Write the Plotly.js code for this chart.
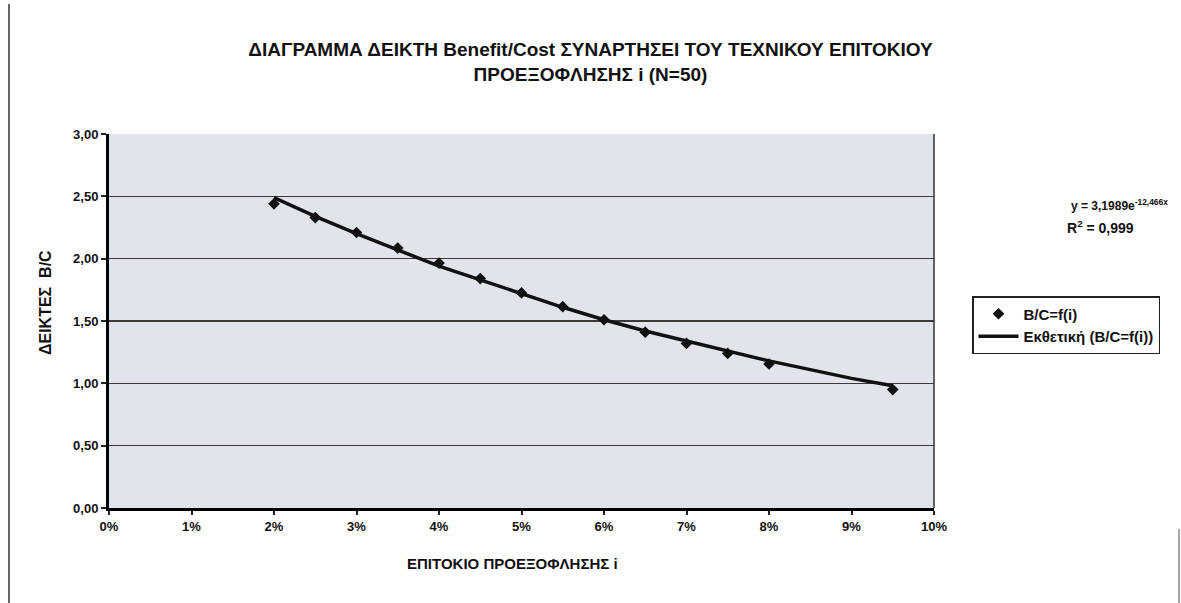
<!DOCTYPE html>
<html>
<head>
<meta charset="utf-8">
<script src="https://cdn.plot.ly/plotly-3.0.1.min.js"></script>
<style>
html,body{margin:0;padding:0;background:#fff;}
#chart{width:1181px;height:603px;}
</style>
</head>
<body>
<div id="chart"></div>
<script>
// Data
const rates = [0.02, 0.025, 0.03, 0.035, 0.04, 0.045, 0.05, 0.055, 0.06, 0.065, 0.07, 0.075, 0.08, 0.095];
const bcValues = [2.44, 2.33, 2.21, 2.085, 1.965, 1.84, 1.725, 1.615, 1.51, 1.41, 1.32, 1.24, 1.155, 0.95];
// Exponential trendline as drawn
const trendRates = [0.02, 0.025, 0.03, 0.035, 0.04, 0.045, 0.05, 0.055, 0.06, 0.065, 0.07, 0.075, 0.08, 0.085, 0.09, 0.095];
const trendValues = [2.49, 2.34, 2.20, 2.07, 1.94, 1.83, 1.72, 1.61, 1.51, 1.42, 1.34, 1.26, 1.18, 1.11, 1.04, 0.98];
const xTickVals = [0, 0.01, 0.02, 0.03, 0.04, 0.05, 0.06, 0.07, 0.08, 0.09, 0.10];
const yTickVals = [0, 0.5, 1.0, 1.5, 2.0, 2.5, 3.0];

const titleText = "ΔΙΑΓΡΑΜΜΑ ΔΕΙΚΤΗ Benefit/Cost ΣΥΝΑΡΤΗΣΕΙ ΤΟΥ ΤΕΧΝΙΚΟΥ ΕΠΙΤΟΚΙΟΥ<br>ΠΡΟΕΞΟΦΛΗΣΗΣ i (N=50)";
const xTitle = "ΕΠΙΤΟΚΙΟ ΠΡΟΕΞΟΦΛΗΣΗΣ i";
const yTitle = "ΔΕΙΚΤΕΣ&nbsp;&nbsp;B/C";
const eqText = "y = 3,1989e<sup>-12,466x</sup>";
const r2Text = "R<sup>2</sup> = 0,999";

const FONT = "Liberation Sans, Arial, sans-serif";
const bold = (size) => ({family: FONT, size: size, color: '#111', weight: 'bold'});

const traces = [
  {
    x: rates, y: bcValues, type: 'scatter', mode: 'markers',
    name: 'B/C=f(i)',
    marker: {symbol: 'diamond', size: 9, color: '#111'},
    cliponaxis: false
  },
  {
    x: trendRates, y: trendValues, type: 'scatter', mode: 'lines',
    name: 'Εκθετική (B/C=f(i))',
    line: {color: '#111', width: 3.5},
    cliponaxis: false
  }
];

const layout = {
  width: 1181, height: 603,
  margin: {l: 109, r: 247, t: 134, b: 95, pad: 0},
  paper_bgcolor: '#ffffff',
  plot_bgcolor: '#e1e5eb',
  separators: ',.',
  font: bold(12),
  title: {
    text: titleText,
    x: 0.5, xref: 'container', xanchor: 'center',
    y: 1 - 56/603, yref: 'container', yanchor: 'middle',
    font: bold(19)
  },
  xaxis: {
    range: [0, 0.10],
    tickvals: xTickVals,
    tickformat: '.0%',
    tickfont: bold(13),
    ticks: 'outside', ticklen: 4, tickwidth: 2, tickcolor: '#222',
    showline: true, linecolor: '#000', linewidth: 3,
    showgrid: false, zeroline: false,
    mirror: false
  },
  yaxis: {
    range: [0, 3.0],
    tickvals: yTickVals,
    tickformat: '.2f',
    tickfont: bold(13),
    ticks: 'outside', ticklen: 5, tickwidth: 2, tickcolor: '#222',
    showline: true, linecolor: '#000', linewidth: 3,
    showgrid: true, gridcolor: '#3a3a3a', gridwidth: 1.5,
    zeroline: false
  },
  showlegend: true,
  legend: {
    x: (972 - 109) / 825, xanchor: 'left',
    y: (508 - 296) / 374, yanchor: 'top',
    bgcolor: '#ffffff', bordercolor: '#222', borderwidth: 1.5,
    font: bold(15),
    tracegroupgap: 4,
    itemwidth: 40
  },
  annotations: [
    {
      text: xTitle, xref: 'paper', yref: 'paper',
      x: (512 - 109) / 825, y: (508 - 563) / 374, xanchor: 'center', yanchor: 'middle',
      showarrow: false, font: bold(15)
    },
    {
      text: yTitle, xref: 'paper', yref: 'paper',
      x: (45 - 109) / 825, y: (508 - 303) / 374, xanchor: 'center', yanchor: 'middle',
      textangle: -90, showarrow: false, font: bold(16)
    },
    {
      text: eqText, xref: 'paper', yref: 'paper',
      x: (1170 - 109) / 825, y: (508 - 205) / 374, xanchor: 'right', yanchor: 'middle',
      showarrow: false, font: bold(12)
    },
    {
      text: r2Text, xref: 'paper', yref: 'paper',
      x: (1100 - 109) / 825, y: (508 - 227) / 374, xanchor: 'center', yanchor: 'middle',
      showarrow: false, font: bold(14)
    }
  ],
  shapes: [
    {type: 'line', xref: 'paper', yref: 'paper', x0: 1, x1: 1, y0: 0, y1: 1,
     line: {color: '#333', width: 1.5}},
    {type: 'line', xref: 'paper', yref: 'paper',
     x0: (9 - 109) / 825, x1: (9 - 109) / 825, y0: (508 - 4) / 374, y1: (508 - 603) / 374,
     line: {color: '#333', width: 1.5}},
    {type: 'line', xref: 'paper', yref: 'paper',
     x0: (1179 - 109) / 825, x1: (1179 - 109) / 825, y0: (508 - 529) / 374, y1: (508 - 603) / 374,
     line: {color: '#888', width: 1.5}}
  ]
};

Plotly.newPlot('chart', traces, layout, {displayModeBar: false, staticPlot: true});
</script>
</body>
</html>
